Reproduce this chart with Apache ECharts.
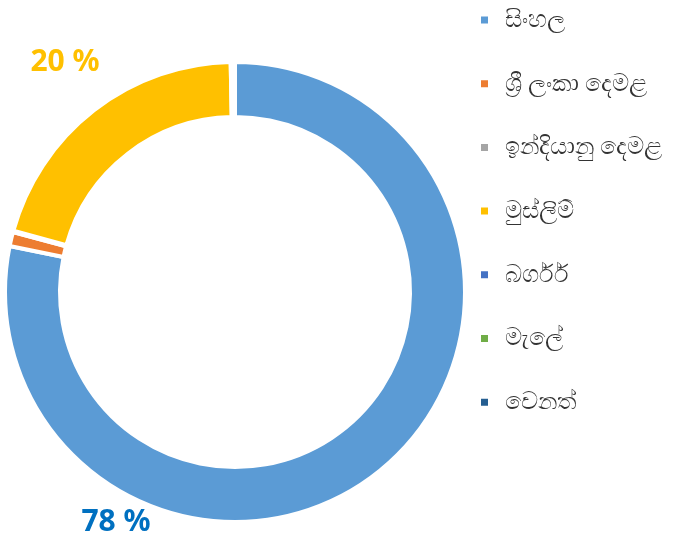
<!DOCTYPE html>
<html>
<head>
<meta charset="utf-8">
<script src="https://cdn.jsdelivr.net/npm/echarts@6/dist/echarts.min.js"></script>
<style>
  html, body { margin: 0; padding: 0; background: #fff; }
  #chart { width: 676px; height: 544px; }
</style>
</head>
<body>
<div id="chart"></div>
<script>
// ethnic groups (Sinhala labels as in the source)
const categories = ['සිංහල', 'ශ්‍රී ලංකා දෙමළ', 'ඉන්දියානු දෙමළ', 'මුස්ලිම්', 'බර්ගර්', 'මැලේ', 'වෙනත්'];
// share of population, %
const values = [78.2, 1.0, 0.1, 20.4, 0.1, 0.1, 0.1];
const colors = ['#5B9BD5', '#ED7D31', '#A5A5A5', '#FFC000', '#4472C4', '#70AD47', '#255E91'];
// label colours for the two big slices
const labelColors = { 0: '#0070C0', 3: '#FFC000' };

let chart = echarts.init(document.getElementById('chart'));

let option = {
  animation: false,
  color: colors,
  legend: {
    orient: 'vertical',
    left: 474,
    top: 3,
    icon: 'rect',
    itemWidth: 9,
    itemHeight: 9,
    itemGap: 39.7,
    textStyle: {
      fontSize: 24,
      lineHeight: 24,
      color: '#333333',
      padding: [0, 0, 0, 11],
      fontFamily: 'Noto Sans, sans-serif'
    },
    data: categories
  },
  series: [
    {
      type: 'pie',
      center: [235, 292],
      radius: [175, 230],
      startAngle: 90,
      clockwise: true,
      avoidLabelOverlap: false,
      itemStyle: {
        borderColor: '#fff',
        borderWidth: 4
      },
      label: {
        show: true,
        position: 'outside',
        fontSize: 30,
        fontWeight: 'bold',
        fontFamily: 'Noto Sans, sans-serif',
        formatter: function (p) {
          return p.percent >= 5 ? Math.round(p.percent) + ' %' : '';
        }
      },
      labelLine: { show: false },
      labelLayout: function (p) {
        if (p.dataIndex === 0) return { x: 116, y: 522, align: 'center', verticalAlign: 'middle' };
        if (p.dataIndex === 3) return { x: 65, y: 62, align: 'center', verticalAlign: 'middle' };
        return {};
      },
      data: categories.map((name, i) => ({
        name: name,
        value: values[i],
        label: { color: labelColors[i] || colors[i] }
      }))
    }
  ]
};

chart.setOption(option);
</script>
</body>
</html>
